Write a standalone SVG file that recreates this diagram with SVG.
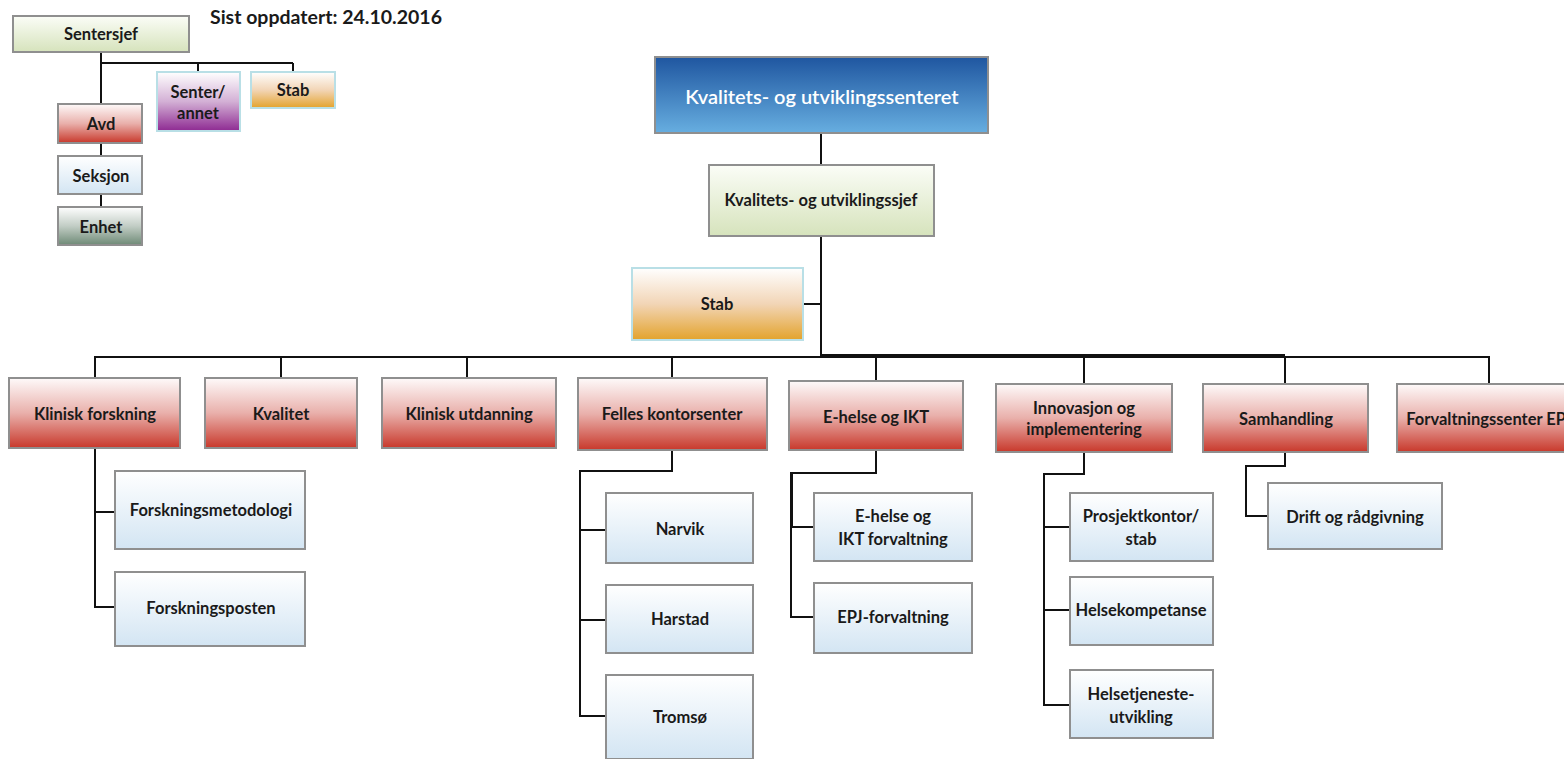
<svg xmlns="http://www.w3.org/2000/svg" width="1564" height="759" viewBox="0 0 1564 759">
  <defs>
    <linearGradient id="gRed" x1="0" y1="0" x2="0" y2="1">
      <stop offset="0" stop-color="#fefafa"/>
      <stop offset="0.5" stop-color="#e9b0ab"/>
      <stop offset="1" stop-color="#c8382b"/>
    </linearGradient>
    <linearGradient id="gBlue" x1="0" y1="0" x2="0" y2="1">
      <stop offset="0" stop-color="#ffffff"/>
      <stop offset="1" stop-color="#d3e5f3"/>
    </linearGradient>
    <linearGradient id="gGreen" x1="0" y1="0" x2="0" y2="1">
      <stop offset="0" stop-color="#fbfdf7"/>
      <stop offset="1" stop-color="#d6e3bc"/>
    </linearGradient>
    <linearGradient id="gOrange" x1="0" y1="0" x2="0" y2="1">
      <stop offset="0" stop-color="#ffffff"/>
      <stop offset="0.5" stop-color="#f2d5b6"/>
      <stop offset="1" stop-color="#e3a32c"/>
    </linearGradient>
    <linearGradient id="gPurple" x1="0" y1="0" x2="0" y2="1">
      <stop offset="0" stop-color="#ffffff"/>
      <stop offset="0.5" stop-color="#d3b0d5"/>
      <stop offset="1" stop-color="#8e2a92"/>
    </linearGradient>
    <linearGradient id="gGray" x1="0" y1="0" x2="0" y2="1">
      <stop offset="0" stop-color="#ffffff"/>
      <stop offset="0.5" stop-color="#c2cdc5"/>
      <stop offset="1" stop-color="#6e8a76"/>
    </linearGradient>
    <linearGradient id="gTop" x1="0" y1="0" x2="0" y2="1">
      <stop offset="0" stop-color="#1f56a0"/>
      <stop offset="1" stop-color="#67aee0"/>
    </linearGradient>
  </defs>
  <style>
    .box { stroke: #8f8f8f; stroke-width: 2; }
    .stabbox { stroke: #b9dfe6; stroke-width: 2; }
    .red { fill: url(#gRed); }
    .blue { fill: url(#gBlue); }
    .green { fill: url(#gGreen); }
    .orange { fill: url(#gOrange); }
    .purple { fill: url(#gPurple); }
    .gray { fill: url(#gGray); }
    .top { fill: url(#gTop); }
    text { font-family: Lato, "Open Sans", "Liberation Sans", sans-serif; font-weight: 700; font-size: 16.5px; fill: #1a1a1a; text-anchor: middle; dominant-baseline: central; }
    .title { font-size: 20px; fill: #ffffff; font-weight: 600; }
    .date { font-size: 19.5px; text-anchor: start; dominant-baseline: auto; }
    .conn { fill: none; stroke: #111111; stroke-width: 2; }
  </style>

  <rect width="1564" height="759" fill="#ffffff"/>

  <text class="date" x="210" y="24">Sist oppdatert: 24.10.2016</text>

  <!-- connectors -->
  <g id="connectors">
    <!-- legend -->
    <path class="conn" d="M101 52 V104 M101 63 H293 M198 63 V72 M293 63 V72 M101 143 V156 M101 194 V207"/>
    <!-- main spine -->
    <path class="conn" d="M821 133 V165 M821 236 V356 M803 304 H821"/>
    <path class="conn" d="M95 378 V357 H1489 V384 M281 357 V378 M467 357 V378 M672 357 V378 M876 357 V381 M1084 357 V384 M1285 357 V384"/>
    <path class="conn" d="M821 355 H1285"/>
    <!-- Klinisk forskning -->
    <path class="conn" d="M95 448 V607 H115 M95 512 H115"/>
    <!-- Felles kontorsenter -->
    <path class="conn" d="M672 450 V471 H580 V716 H606 M580 530 H606 M580 620 H606"/>
    <!-- E-helse og IKT -->
    <path class="conn" d="M876 450 V473 H791 V617 H814 M791 527 H814"/>
    <path class="conn" d="M792 473 V527"/>
    <!-- Innovasjon og implementering -->
    <path class="conn" d="M1084 452 V474 H1044 V705 H1070 M1044 527 H1070 M1044 610 H1070"/>
    <!-- Samhandling -->
    <path class="conn" d="M1285 452 V466 H1246 V516 H1268"/>
  </g>

  <!-- legend nodes -->
  <g id="n-sentersjef"><rect class="box green" x="13" y="16" width="176" height="36"/><text x="101" y="34">Sentersjef</text></g>
  <g id="n-senter"><rect class="stabbox purple" x="157" y="72" width="83" height="59"/><text x="198" y="92">Senter/</text><text x="198" y="113">annet</text></g>
  <g id="n-stab-legend"><rect class="stabbox orange" x="251" y="72" width="84" height="36"/><text x="293" y="90">Stab</text></g>
  <g id="n-avd"><rect class="box red" x="58" y="104" width="84" height="39"/><text x="101" y="124">Avd</text></g>
  <g id="n-seksjon"><rect class="box blue" x="58" y="156" width="84" height="38"/><text x="101" y="176">Seksjon</text></g>
  <g id="n-enhet"><rect class="box gray" x="58" y="207" width="84" height="38"/><text x="101" y="227">Enhet</text></g>

  <!-- top nodes -->
  <g id="n-senteret"><rect class="box top" x="655" y="57" width="333" height="76"/><text class="title" x="822" y="96">Kvalitets- og utviklingssenteret</text></g>
  <g id="n-sjef"><rect class="box green" x="709" y="165" width="225" height="71"/><text x="821" y="200">Kvalitets- og utviklingssjef</text></g>
  <g id="n-stab"><rect class="stabbox orange" x="632" y="268" width="171" height="72"/><text x="717" y="304">Stab</text></g>

  <!-- departments -->
  <g id="n-klinisk-forskning"><rect class="box red" x="9" y="378" width="171" height="70"/><text x="95" y="414">Klinisk forskning</text></g>
  <g id="n-kvalitet"><rect class="box red" x="205" y="378" width="152" height="70"/><text x="281" y="414">Kvalitet</text></g>
  <g id="n-klinisk-utdanning"><rect class="box red" x="382" y="378" width="174" height="70"/><text x="469" y="414">Klinisk utdanning</text></g>
  <g id="n-felles"><rect class="box red" x="578" y="378" width="189" height="72"/><text x="672" y="414">Felles kontorsenter</text></g>
  <g id="n-ehelse"><rect class="box red" x="789" y="381" width="174" height="69"/><text x="876" y="417">E-helse og IKT</text></g>
  <g id="n-innovasjon"><rect class="box red" x="996" y="384" width="176" height="68"/><text x="1084" y="408">Innovasjon og</text><text x="1084" y="429">implementering</text></g>
  <g id="n-samhandling"><rect class="box red" x="1203" y="384" width="165" height="68"/><text x="1286" y="419">Samhandling</text></g>
  <g id="n-forvaltningssenter"><rect class="box red" x="1397" y="384" width="180" height="68"/><text x="1489" y="419">Forvaltningssenter EPJ</text></g>

  <!-- sections -->
  <g id="n-forskningsmetodologi"><rect class="box blue" x="115" y="471" width="190" height="78"/><text x="211" y="510">Forskningsmetodologi</text></g>
  <g id="n-forskningsposten"><rect class="box blue" x="115" y="572" width="190" height="74"/><text x="211" y="608">Forskningsposten</text></g>
  <g id="n-narvik"><rect class="box blue" x="606" y="493" width="147" height="70"/><text x="680" y="529">Narvik</text></g>
  <g id="n-harstad"><rect class="box blue" x="606" y="585" width="147" height="68"/><text x="680" y="619">Harstad</text></g>
  <g id="n-tromso"><rect class="box blue" x="606" y="675" width="147" height="84"/><text x="680" y="717">Tromsø</text></g>
  <g id="n-ehelse-forv"><rect class="box blue" x="814" y="493" width="158" height="68"/><text x="893" y="516">E-helse og</text><text x="893" y="539">IKT forvaltning</text></g>
  <g id="n-epj"><rect class="box blue" x="814" y="583" width="158" height="70"/><text x="893" y="617">EPJ-forvaltning</text></g>
  <g id="n-prosjekt"><rect class="box blue" x="1070" y="493" width="143" height="68"/><text x="1141" y="516">Prosjektkontor/</text><text x="1141" y="539">stab</text></g>
  <g id="n-helsekompetanse"><rect class="box blue" x="1070" y="577" width="143" height="68"/><text x="1141" y="610">Helsekompetanse</text></g>
  <g id="n-helsetjeneste"><rect class="box blue" x="1070" y="670" width="143" height="68"/><text x="1141" y="694">Helsetjeneste-</text><text x="1141" y="717">utvikling</text></g>
  <g id="n-drift"><rect class="box blue" x="1268" y="483" width="174" height="66"/><text x="1355" y="517">Drift og rådgivning</text></g>
</svg>
